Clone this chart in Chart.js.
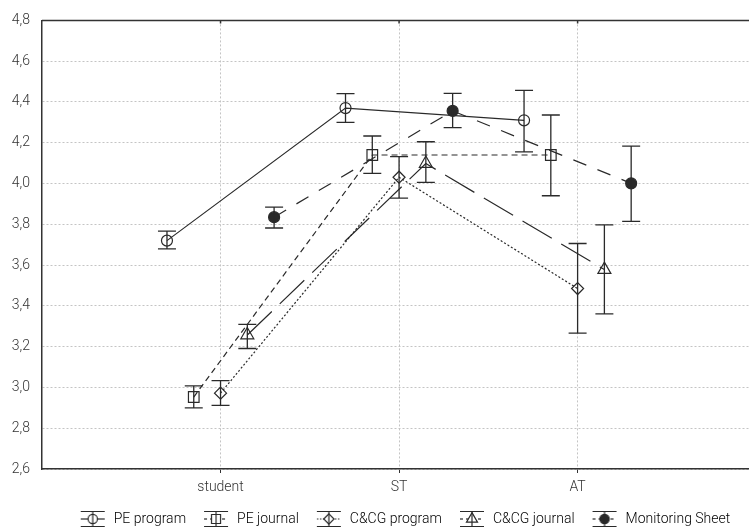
<!DOCTYPE html>
<html lang="en">
<head>
    <meta charset="UTF-8">
    <script src="https://cdn.jsdelivr.net/npm/chart.js"></script>
    <title>Means with error bars</title>
    <style>
        html, body { margin: 0; background: #fff; overflow: hidden; }
        canvas { display: block; }
    </style>
</head>
<body>
    <canvas id="myChart" width="749" height="528"></canvas>
    <script>
        const categories = ['student', 'ST', 'AT'];
        const yTicks = [2.6, 2.8, 3.0, 3.2, 3.4, 3.6, 3.8, 4.0, 4.2, 4.4, 4.6, 4.8];

        const seriesNames = ['PE program', 'PE journal', 'C&CG program', 'C&CG journal', 'Monitoring Sheet'];

        const peProgram = [3.72, 4.37, 4.31];
        const peProgramLow = [3.68, 4.30, 4.155];
        const peProgramHigh = [3.767, 4.441, 4.457];

        const peJournal = [2.953, 4.14, 4.14];
        const peJournalLow = [2.90, 4.05, 3.94];
        const peJournalHigh = [3.008, 4.233, 4.336];

        const ccgProgram = [2.972, 4.031, 3.485];
        const ccgProgramLow = [2.912, 3.928, 3.266];
        const ccgProgramHigh = [3.033, 4.132, 3.706];

        const ccgJournal = [3.257, 4.098, 3.578];
        const ccgJournalLow = [3.191, 4.006, 3.361];
        const ccgJournalHigh = [3.309, 4.205, 3.797];

        const monitoring = [3.835, 4.356, 4.001];
        const monitoringLow = [3.782, 4.274, 3.814];
        const monitoringHigh = [3.884, 4.442, 4.183];

        const FONT = "Roboto, 'DejaVu Sans Condensed', sans-serif";
        const INK = '#2a2a2a';

        // each series is shifted a bit sideways inside its category
        const dodge = 0.15;

        const styles = [
            { dash: [], point: 'circle', radius: 5.5, fill: 'rgba(255,255,255,0)' },
            { dash: [6, 4], point: 'rect', radius: 7.5, fill: 'rgba(255,255,255,0)' },
            { dash: [2, 2], point: 'rectRot', radius: 6, fill: 'rgba(255,255,255,0)' },
            { dash: [34, 11], point: 'triangle', radius: 7.5, fill: 'rgba(255,255,255,0)' },
            { dash: [14, 12], point: 'circle', radius: 5.5, fill: INK }
        ];

        const means = [peProgram, peJournal, ccgProgram, ccgJournal, monitoring];
        const lows = [peProgramLow, peJournalLow, ccgProgramLow, ccgJournalLow, monitoringLow];
        const highs = [peProgramHigh, peJournalHigh, ccgProgramHigh, ccgJournalHigh, monitoringHigh];

        const datasets = means.map((vals, s) => ({
            label: seriesNames[s],
            data: vals.map((v, i) => ({
                x: i + 1 + (s - 2) * dodge,
                y: v,
                lo: lows[s][i],
                hi: highs[s][i]
            })),
            showLine: true,
            borderColor: INK,
            borderWidth: 1.2,
            borderDash: styles[s].dash,
            pointStyle: styles[s].point,
            pointRadius: styles[s].radius,
            pointBorderWidth: 1.2,
            pointBackgroundColor: styles[s].fill,
            pointBorderColor: INK,
            tension: 0
        }));

        // little glyph for the legend: caps, whisker, line and marker
        function legendGlyph(s) {
            const c = document.createElement('canvas');
            c.width = 28; c.height = 18;
            const g = c.getContext('2d');
            g.strokeStyle = INK;
            g.lineWidth = 1.2;
            g.beginPath();
            g.moveTo(2, 1.5); g.lineTo(26, 1.5);
            g.moveTo(2, 16.5); g.lineTo(26, 16.5);
            g.stroke();
            g.setLineDash(s === 0 ? [] : (s === 2 ? [1.5, 1.5] : [3, 3]));
            g.beginPath();
            g.moveTo(2, 9); g.lineTo(26, 9);
            g.stroke();
            g.setLineDash([]);
            g.fillStyle = s === 4 ? INK : '#fff';
            Chart.helpers.drawPoint(g, {
                pointStyle: styles[s].point,
                radius: styles[s].radius * 0.85,
                borderWidth: 1.2
            }, 14, 9);
            g.beginPath();
            g.moveTo(14, 1.5); g.lineTo(14, 16.5);
            g.stroke();
            return c;
        }

        const errorBars = {
            id: 'errorBars',
            beforeLayout(chart) {
                // keep the legend box short, the item spacing stays wide
                const lg = chart.legend;
                if (lg && !lg._fixedHeight) {
                    const fit = lg.fit;
                    lg.fit = function () { fit.call(this); this.height = 32; };
                    lg._fixedHeight = true;
                }
            },
            afterLayout(chart) {
                // the legend sits a little right of centre in the original
                chart.legend.left += 30;
                chart.legend.right += 30;
            },
            afterDatasetsDraw(chart) {
                const { ctx, scales: { x, y }, chartArea } = chart;
                ctx.save();
                ctx.strokeStyle = INK;
                ctx.lineWidth = 1.3;
                chart.data.datasets.forEach(ds => {
                    ds.data.forEach(p => {
                        const px = x.getPixelForValue(p.x);
                        const top = y.getPixelForValue(p.hi);
                        const bot = y.getPixelForValue(p.lo);
                        ctx.beginPath();
                        ctx.moveTo(px, top); ctx.lineTo(px, bot);
                        ctx.moveTo(px - 9, top); ctx.lineTo(px + 9, top);
                        ctx.moveTo(px - 9, bot); ctx.lineTo(px + 9, bot);
                        ctx.stroke();
                    });
                });
                // frame line on top plus small ticks there
                ctx.lineWidth = 1.5;
                ctx.strokeStyle = '#333';
                ctx.beginPath();
                ctx.moveTo(chartArea.left, chartArea.top);
                ctx.lineTo(chartArea.right, chartArea.top);
                categories.forEach((c, i) => {
                    const px = x.getPixelForValue(i + 1);
                    ctx.moveTo(px, chartArea.top);
                    ctx.lineTo(px, chartArea.top + 3);
                });
                ctx.stroke();
                ctx.restore();
            }
        };

        const ctx = document.getElementById('myChart').getContext('2d');
        const myChart = new Chart(ctx, {
            type: 'scatter',
            data: { datasets: datasets },
            plugins: [errorBars],
            options: {
                responsive: false,
                animation: false,
                layout: { autoPadding: false, padding: { top: 20, right: 0, left: 0, bottom: 0 } },
                scales: {
                    x: {
                        type: 'linear',
                        min: 0,
                        max: 3.96,
                        afterBuildTicks: scale => {
                            scale.ticks = categories.map((c, i) => ({ value: i + 1 }));
                        },
                        afterFit: scale => {
                            scale.height = 27;
                            scale.paddingRight = 0;
                            scale.paddingLeft = 0;
                        },
                        ticks: {
                            callback: v => categories[v - 1],
                            color: '#333',
                            font: { family: FONT, size: 14, weight: 300 },
                            padding: 6,
                            maxRotation: 0
                        },
                        grid: {
                            color: '#c4c4c4',
                            tickColor: '#333',
                            tickLength: 4,
                            tickBorderDash: []
                        },
                        border: { color: '#333', width: 1.5, dash: [2, 2] }
                    },
                    y: {
                        min: 2.6,
                        max: 4.8,
                        afterBuildTicks: scale => {
                            scale.ticks = yTicks.map(v => ({ value: v }));
                        },
                        afterFit: scale => { scale.width = 42; },
                        ticks: {
                            callback: v => v.toFixed(1).replace('.', ','),
                            color: '#333',
                            font: { family: FONT, size: 14, weight: 300 },
                            padding: 12
                        },
                        grid: { color: '#c4c4c4', drawTicks: false },
                        border: { color: '#333', width: 1.5, dash: [2, 2] }
                    }
                },
                plugins: {
                    tooltip: { enabled: false },
                    legend: {
                        position: 'bottom',
                        labels: {
                            usePointStyle: true,
                            pointStyleWidth: 28,
                            boxHeight: 14,
                            color: '#222',
                            padding: 16,
                            font: { family: FONT, size: 14, weight: 300 },
                            generateLabels: chart => chart.data.datasets.map((ds, i) => ({
                                text: ds.label,
                                pointStyle: legendGlyph(i),
                                fillStyle: '#fff',
                                strokeStyle: INK,
                                lineWidth: 0,
                                datasetIndex: i
                            }))
                        }
                    }
                }
            }
        });
    </script>
</body>
</html>
